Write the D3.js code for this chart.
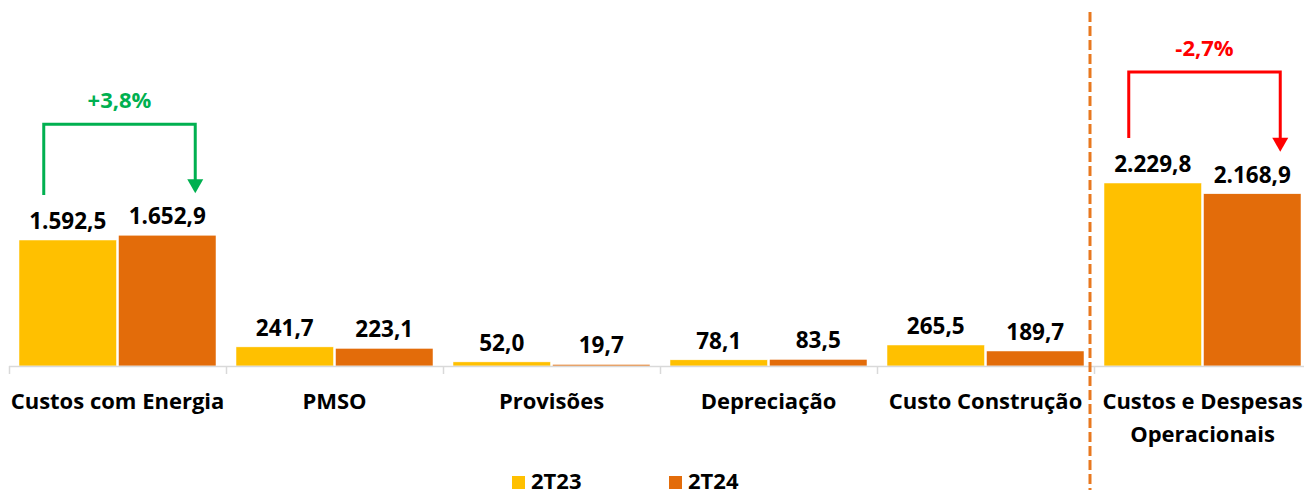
<!DOCTYPE html>
<html>
<head>
<meta charset="utf-8">
<script src="https://cdn.jsdelivr.net/npm/d3@7"></script>
<style>
  body { margin: 0; background: #fff; }
  svg text { font-family: "Open Sans", Lato, sans-serif; font-weight: bold; }
</style>
</head>
<body>
<div id="chart"></div>
<script>
var categories = ["Custos com Energia", "PMSO", "Provisões", "Depreciação", "Custo Construção", "Custos e Despesas|Operacionais"];
var series = ["2T23", "2T24"];
var values2T23 = [1592.5, 241.7, 52.0, 78.1, 265.5, 2229.8];
var values2T24 = [1652.9, 223.1, 19.7, 83.5, 189.7, 2168.9];
var labels2T23 = ["1.592,5", "241,7", "52,0", "78,1", "265,5", "2.229,8"];
var labels2T24 = ["1.652,9", "223,1", "19,7", "83,5", "189,7", "2.168,9"];
var changes = [{cat: 0, text: "+3,8%", color: "#00B050"}, {cat: 5, text: "-2,7%", color: "#FF0000"}];

var colors = {"2T23": "#FFC000", "2T24": "#E36C0A"};
var W = 1304, H = 490, base = 366;

var svg = d3.select("#chart").append("svg").attr("width", W).attr("height", H);

var x = d3.scaleBand().domain(d3.range(categories.length)).range([9, 1311]);
var xi = d3.scaleBand().domain(series).range([10, x.bandwidth() - 10]).paddingInner(0.02);
// left chart is zero based, the total on the right has its own axis
var yLeft = d3.scaleLinear().domain([0, 1592.5]).range([base, 240]);
var yRight = d3.scaleLinear().domain([1194, 2229.8]).range([base, 183]);
function yFor(i) { return i === 5 ? yRight : yLeft; }

var rows = categories.map(function(c, i) {
  return [
    {i: i, s: "2T23", v: values2T23[i], label: labels2T23[i]},
    {i: i, s: "2T24", v: values2T24[i], label: labels2T24[i]}
  ];
});

var g = svg.selectAll(".grp").data(rows).enter().append("g")
  .attr("transform", function(d, i) { return "translate(" + x(i) + ",0)"; });

g.selectAll("rect").data(function(d) { return d; }).enter().append("rect")
  .attr("x", function(d) { return xi(d.s); })
  .attr("width", xi.bandwidth())
  .attr("y", function(d) { return yFor(d.i)(d.v); })
  .attr("height", function(d) { return base - yFor(d.i)(d.v); })
  .attr("fill", function(d) { return colors[d.s]; })
  .attr("stroke", "#fff").attr("stroke-width", 0.5);

g.selectAll("text.val").data(function(d) { return d; }).enter().append("text")
  .attr("class", "val")
  .attr("x", function(d) { return xi(d.s) + xi.bandwidth() / 2; })
  .attr("y", function(d) { return yFor(d.i)(d.v) - 11; })
  .attr("text-anchor", "middle")
  .style("font-size", "22.5px")
  .text(function(d) { return d.label; });

// axis
svg.append("line").attr("x1", 9).attr("x2", W).attr("y1", base + 0.5).attr("y2", base + 0.5)
  .attr("stroke", "#d9d9d9").attr("stroke-width", 1.5);
svg.selectAll(".tick").data(d3.range(categories.length)).enter().append("line")
  .attr("x1", function(i) { return x(i) + 0.5; }).attr("x2", function(i) { return x(i) + 0.5; })
  .attr("y1", base).attr("y2", base + 8)
  .attr("stroke", "#d9d9d9").attr("stroke-width", 1.5);

svg.selectAll(".cat").data(categories).enter().append("text")
  .attr("text-anchor", "middle")
  .attr("transform", function(d, i) { return "translate(" + (x(i) + x.bandwidth() / 2) + ",409)"; })
  .style("font-size", "22px")
  .each(function(d) {
    var parts = d.split("|");
    d3.select(this).selectAll("tspan").data(parts).enter().append("tspan")
      .attr("x", 0).attr("dy", function(p, k) { return k ? 33 : 0; })
      .text(function(p) { return p; });
  });

// separator
svg.append("line").attr("x1", 1090).attr("x2", 1090).attr("y1", 12).attr("y2", H)
  .attr("stroke", "#E8781F").attr("stroke-width", 3).attr("stroke-dasharray", "10,4");

// change brackets
changes.forEach(function(c) {
  var yS = yFor(c.cat);
  var x1 = x(c.cat) + xi("2T23") + xi.bandwidth() / 2 - 24;
  var x2 = x(c.cat) + xi("2T24") + xi.bandwidth() / 2 + 28;
  var top = Math.min(yS(values2T23[c.cat]), yS(values2T24[c.cat])) - 111;
  var startY = yS(values2T23[c.cat]) - 45;
  var endY = yS(values2T24[c.cat]) - 42;
  svg.append("path")
    .attr("d", "M" + x1 + "," + startY + " V" + top + " H" + x2 + " V" + (endY - 12))
    .attr("fill", "none").attr("stroke", c.color).attr("stroke-width", 3);
  svg.append("path")
    .attr("d", "M" + (x2 - 8) + "," + (endY - 14) + " L" + (x2 + 8) + "," + (endY - 14) + " L" + x2 + "," + endY + " Z")
    .attr("fill", c.color);
  svg.append("text").attr("x", (x1 + x2) / 2).attr("y", top - 16)
    .attr("text-anchor", "middle").attr("fill", c.color)
    .style("font-size", "22px").text(c.text);
});

// legend
var leg = svg.selectAll(".leg").data(series).enter().append("g")
  .attr("transform", function(d, i) { return "translate(" + (512 + i * 157) + ",476)"; });
leg.append("rect").attr("width", 13).attr("height", 13).attr("fill", function(d) { return colors[d]; });
leg.append("text").attr("x", 19).attr("y", 13).style("font-size", "22px").text(function(d) { return d; });
</script>
</body>
</html>
